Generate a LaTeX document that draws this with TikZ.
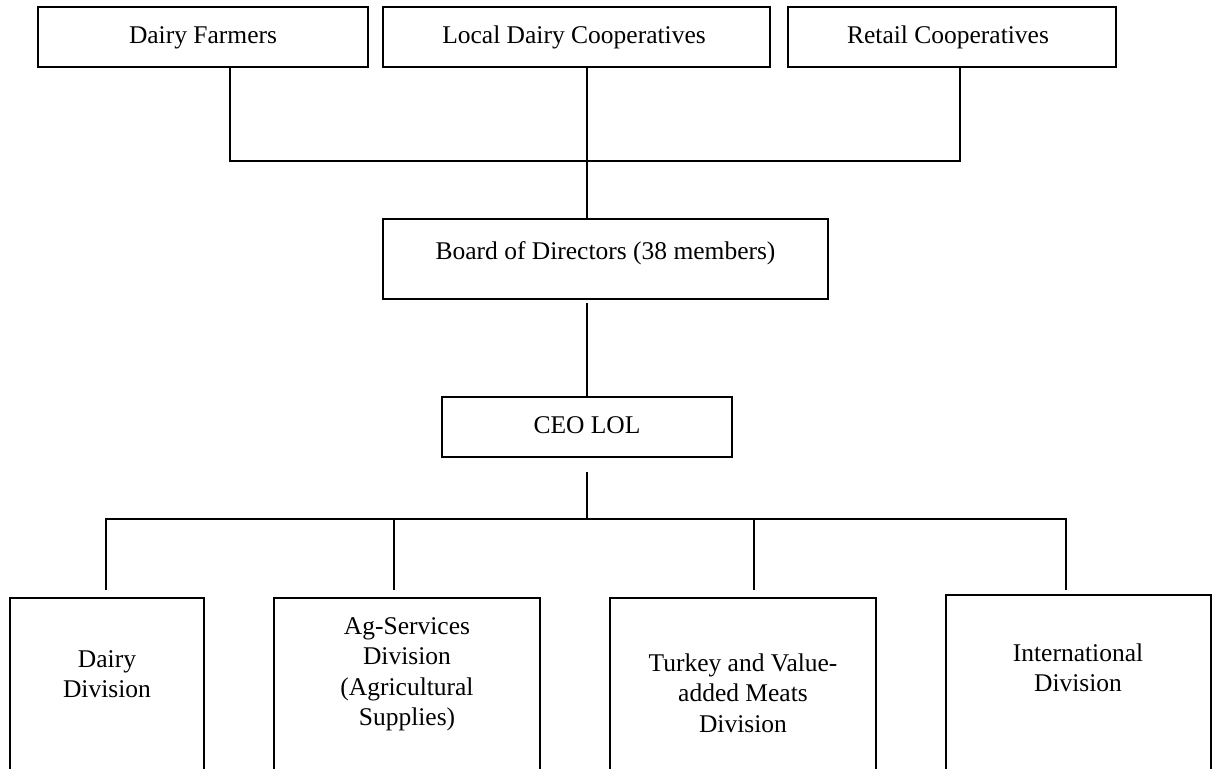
\documentclass[tikz,border=0pt]{standalone}
\usepackage{fontspec}
\setmainfont{Liberation Serif}
\tikzset{
  box/.style={draw, line width=2pt, rectangle, inner sep=0pt},
  lbl/.style={anchor=north, inner sep=0pt, align=center, font=\fontsize{25.5}{30.5}\selectfont},
  conn/.style={line width=2pt},
}
\newcommand{\fl}{\rule{0pt}{18pt}}
\begin{document}
\begin{tikzpicture}[x=1pt, y=-1pt]
\useasboundingbox (0,0) rectangle (1212,768);
\clip (0,0) rectangle (1212,768);
% top row
\node[box, minimum width=330pt, minimum height=60pt] (df)  at (203,37) {};
\node[box, minimum width=387pt, minimum height=60pt] (ldc) at (576.5,37) {};
\node[box, minimum width=328pt, minimum height=60pt] (rc)  at (952,37) {};
\node[lbl] (tdf)  at (203,25) {\fl Dairy Farmers};
\node[lbl] (tldc) at (574,25) {\fl Local Dairy Cooperatives};
\node[lbl] (trc)  at (948,25) {\fl Retail Cooperatives};
% board and CEO
\node[box, minimum width=445pt, minimum height=80pt] (bod) at (605.5,259) {};
\node[lbl] (tbod) at (605.5,241) {\fl Board of Directors (38 members)};
\node[box, minimum width=290pt, minimum height=60pt] (ceo) at (587,427) {};
\node[lbl] (tceo) at (587,415) {\fl CEO LOL};
% divisions
\node[box, minimum width=194pt, minimum height=200pt] (dd)   at (107,698) {};
\node[box, minimum width=266pt, minimum height=200pt] (ag)   at (407,698) {};
\node[box, minimum width=266pt, minimum height=200pt] (tv)   at (743,698) {};
\node[box, minimum width=264.5pt, minimum height=206pt] (intl) at (1078.25,698) {};
\node[lbl] (tdd)   at (107,649)  {\fl Dairy\\Division};
\node[lbl] (tag)   at (407,616)  {\fl Ag-Services\\Division\\(Agricultural\\Supplies)};
\node[lbl] (ttv)   at (743,653)  {\fl Turkey and Value-\\added Meats\\Division};
\node[lbl] (tintl) at (1078,643) {\fl International\\Division};
% junction coordinates
\coordinate (j1) at (230,161);
\coordinate (jt) at (587,161);
\coordinate (j3) at (960,161);
\coordinate (bc) at (587,519);
\coordinate (b1) at (106,519);
\coordinate (b2) at (394,519);
\coordinate (b3) at (754,519);
\coordinate (b4) at (1066,519);
% connectors
\draw[conn] (df.south -| j1) -- (j1) -- (j3) -- (rc.south -| j3);
\draw[conn] (ldc.south -| jt) -- (bod.north -| jt);
\draw[conn, shorten <=3pt] (bod.south -| ceo.north) -- (ceo.north);
\draw[conn, shorten <=14pt] (ceo.south) -- (bc);
\draw[conn, shorten <=7pt, shorten >=4pt] (dd.north -| b1) -- (b1) -- (b4) -- (intl.north -| b4);
\draw[conn, shorten >=7pt] (b2) -- (ag.north -| b2);
\draw[conn, shorten >=7pt] (b3) -- (tv.north -| b3);
\end{tikzpicture}
\end{document}
